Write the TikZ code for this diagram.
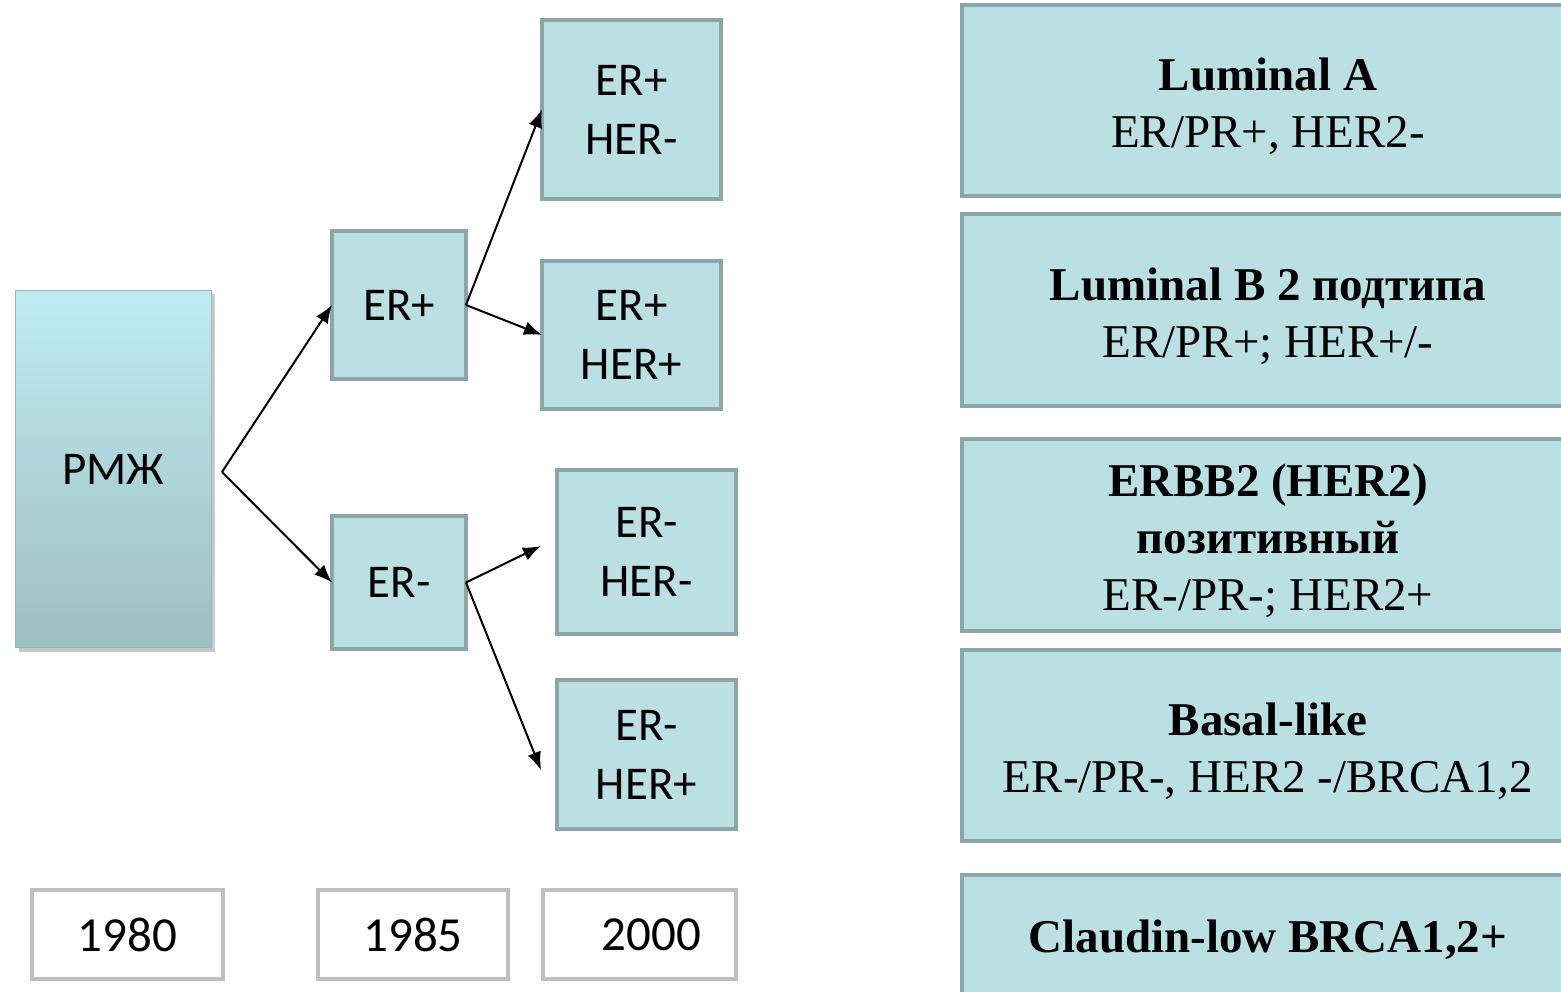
\documentclass[tikz,border=0pt]{standalone}
\usepackage{fontspec}
\setmainfont{Liberation Serif}
\newfontfamily\calfont{Carlito}
\usetikzlibrary{arrows.meta,shadows}
\definecolor{boxfill}{RGB}{186,224,227}
\definecolor{boxline}{RGB}{140,166,168}
\definecolor{yearline}{RGB}{191,191,191}
\definecolor{rtop}{RGB}{192,236,241}
\definecolor{rbot}{RGB}{156,190,196}
\definecolor{redge}{RGB}{150,182,187}
\begin{document}
\begin{tikzpicture}[x=1pt,y=-1pt,
  erbox/.style={draw=boxline, fill=boxfill, line width=4pt, inner sep=0pt, outer sep=0pt,
    align=center, font=\calfont\fontsize{47}{59}\selectfont},
  yearbox/.style={draw=yearline, fill=white, line width=4.5pt, inner sep=0pt, outer sep=0pt,
    minimum height=89pt, align=center, font=\calfont\fontsize{49}{58}\selectfont},
  typebox/.style={draw=boxline, fill=boxfill, line width=4pt, inner sep=0pt, outer sep=0pt,
    minimum width=612pt},
  typetext/.style={align=center, inner sep=0pt, yshift=-6pt, font=\fontsize{47}{57}\selectfont},
  conn/.style={line width=2pt, -{Latex[length=18pt,width=14pt]}}]
\useasboundingbox (0,0) rectangle (1561,992);
\clip (0,0) rectangle (1561,992);
\fill[white] (0,0) rectangle (1561,992);

% main box
\node[draw=redge, line width=1.2pt, top color=rtop, bottom color=rbot, inner sep=0pt, outer sep=0pt,
  minimum width=196pt, minimum height=357pt,
  drop shadow={shadow xshift=3pt, shadow yshift=-4pt, opacity=0.35, fill=black!60},
  font=\calfont\fontsize{47}{56}\selectfont] (rmzh) at (113.5,469) {РМЖ};

% 1985 level
\node[erbox, minimum width=134pt, minimum height=148pt] (erp) at (399,305) {ER+};
\node[erbox, minimum width=134pt, minimum height=133pt] (ern) at (399,582.5) {ER-};

% 2000 level
\node[erbox, minimum width=179pt, minimum height=179pt] (erpn) at (631.5,109.5) {ER+\\HER-};
\node[erbox, minimum width=179pt, minimum height=148pt] (erpp) at (631.5,335) {ER+\\HER+};
\node[erbox, minimum width=179pt, minimum height=164pt] (ernn) at (646.5,552) {ER-\\HER-};
\node[erbox, minimum width=179pt, minimum height=149pt] (ernp) at (646.5,754.5) {ER-\\HER+};

% years
\node[yearbox, minimum width=191pt] (y1980) at (127.5,934.5) {1980};
\node[yearbox, minimum width=190pt] (y1985) at (413,934.5) {1985};
\node[yearbox, minimum width=193pt] (y2000) at (639.5,934.5) {\hspace*{24pt}2000};

% subtypes
\node[typebox, minimum height=191pt, label={[typetext]center:{\textbf{Luminal A}\\ER/PR+, HER2-}}] (luma) at (1268,100.5) {};
\node[typebox, minimum height=192pt, label={[typetext]center:{\textbf{Luminal B 2 подтипа}\\ER/PR+; HER+/-}}] (lumb) at (1268,310) {};
\node[typebox, minimum height=192pt, label={[typetext]center:{\textbf{ERBB2 (HER2)}\\\textbf{позитивный}\\ER-/PR-; HER2+}}] (erbb) at (1268,535) {};
\node[typebox, minimum height=191pt, label={[typetext]center:{\textbf{Basal-like}\\ER-/PR-, HER2 -/BRCA1,2}}] (basal) at (1268,745.5) {};
\node[typebox, minimum height=121pt, label={[typetext, yshift=2pt]center:{\textbf{Claudin-low BRCA1,2+}}}] (claud) at (1268,935.5) {};

% connectors
\coordinate (r0) at (222,472);
\coordinate (t1) at (541,546);
\coordinate (t2) at (541,770);
\draw[conn] (r0) -- (erp.west);
\draw[conn] (r0) -- (ern.west);
\draw[conn] (erp.east) -- (erpn.west);
\draw[conn] (erp.east) -- (erpp.west);
\draw[conn] (ern.east) -- (t1);
\draw[conn] (ern.east) -- (t2);
\end{tikzpicture}
\end{document}
